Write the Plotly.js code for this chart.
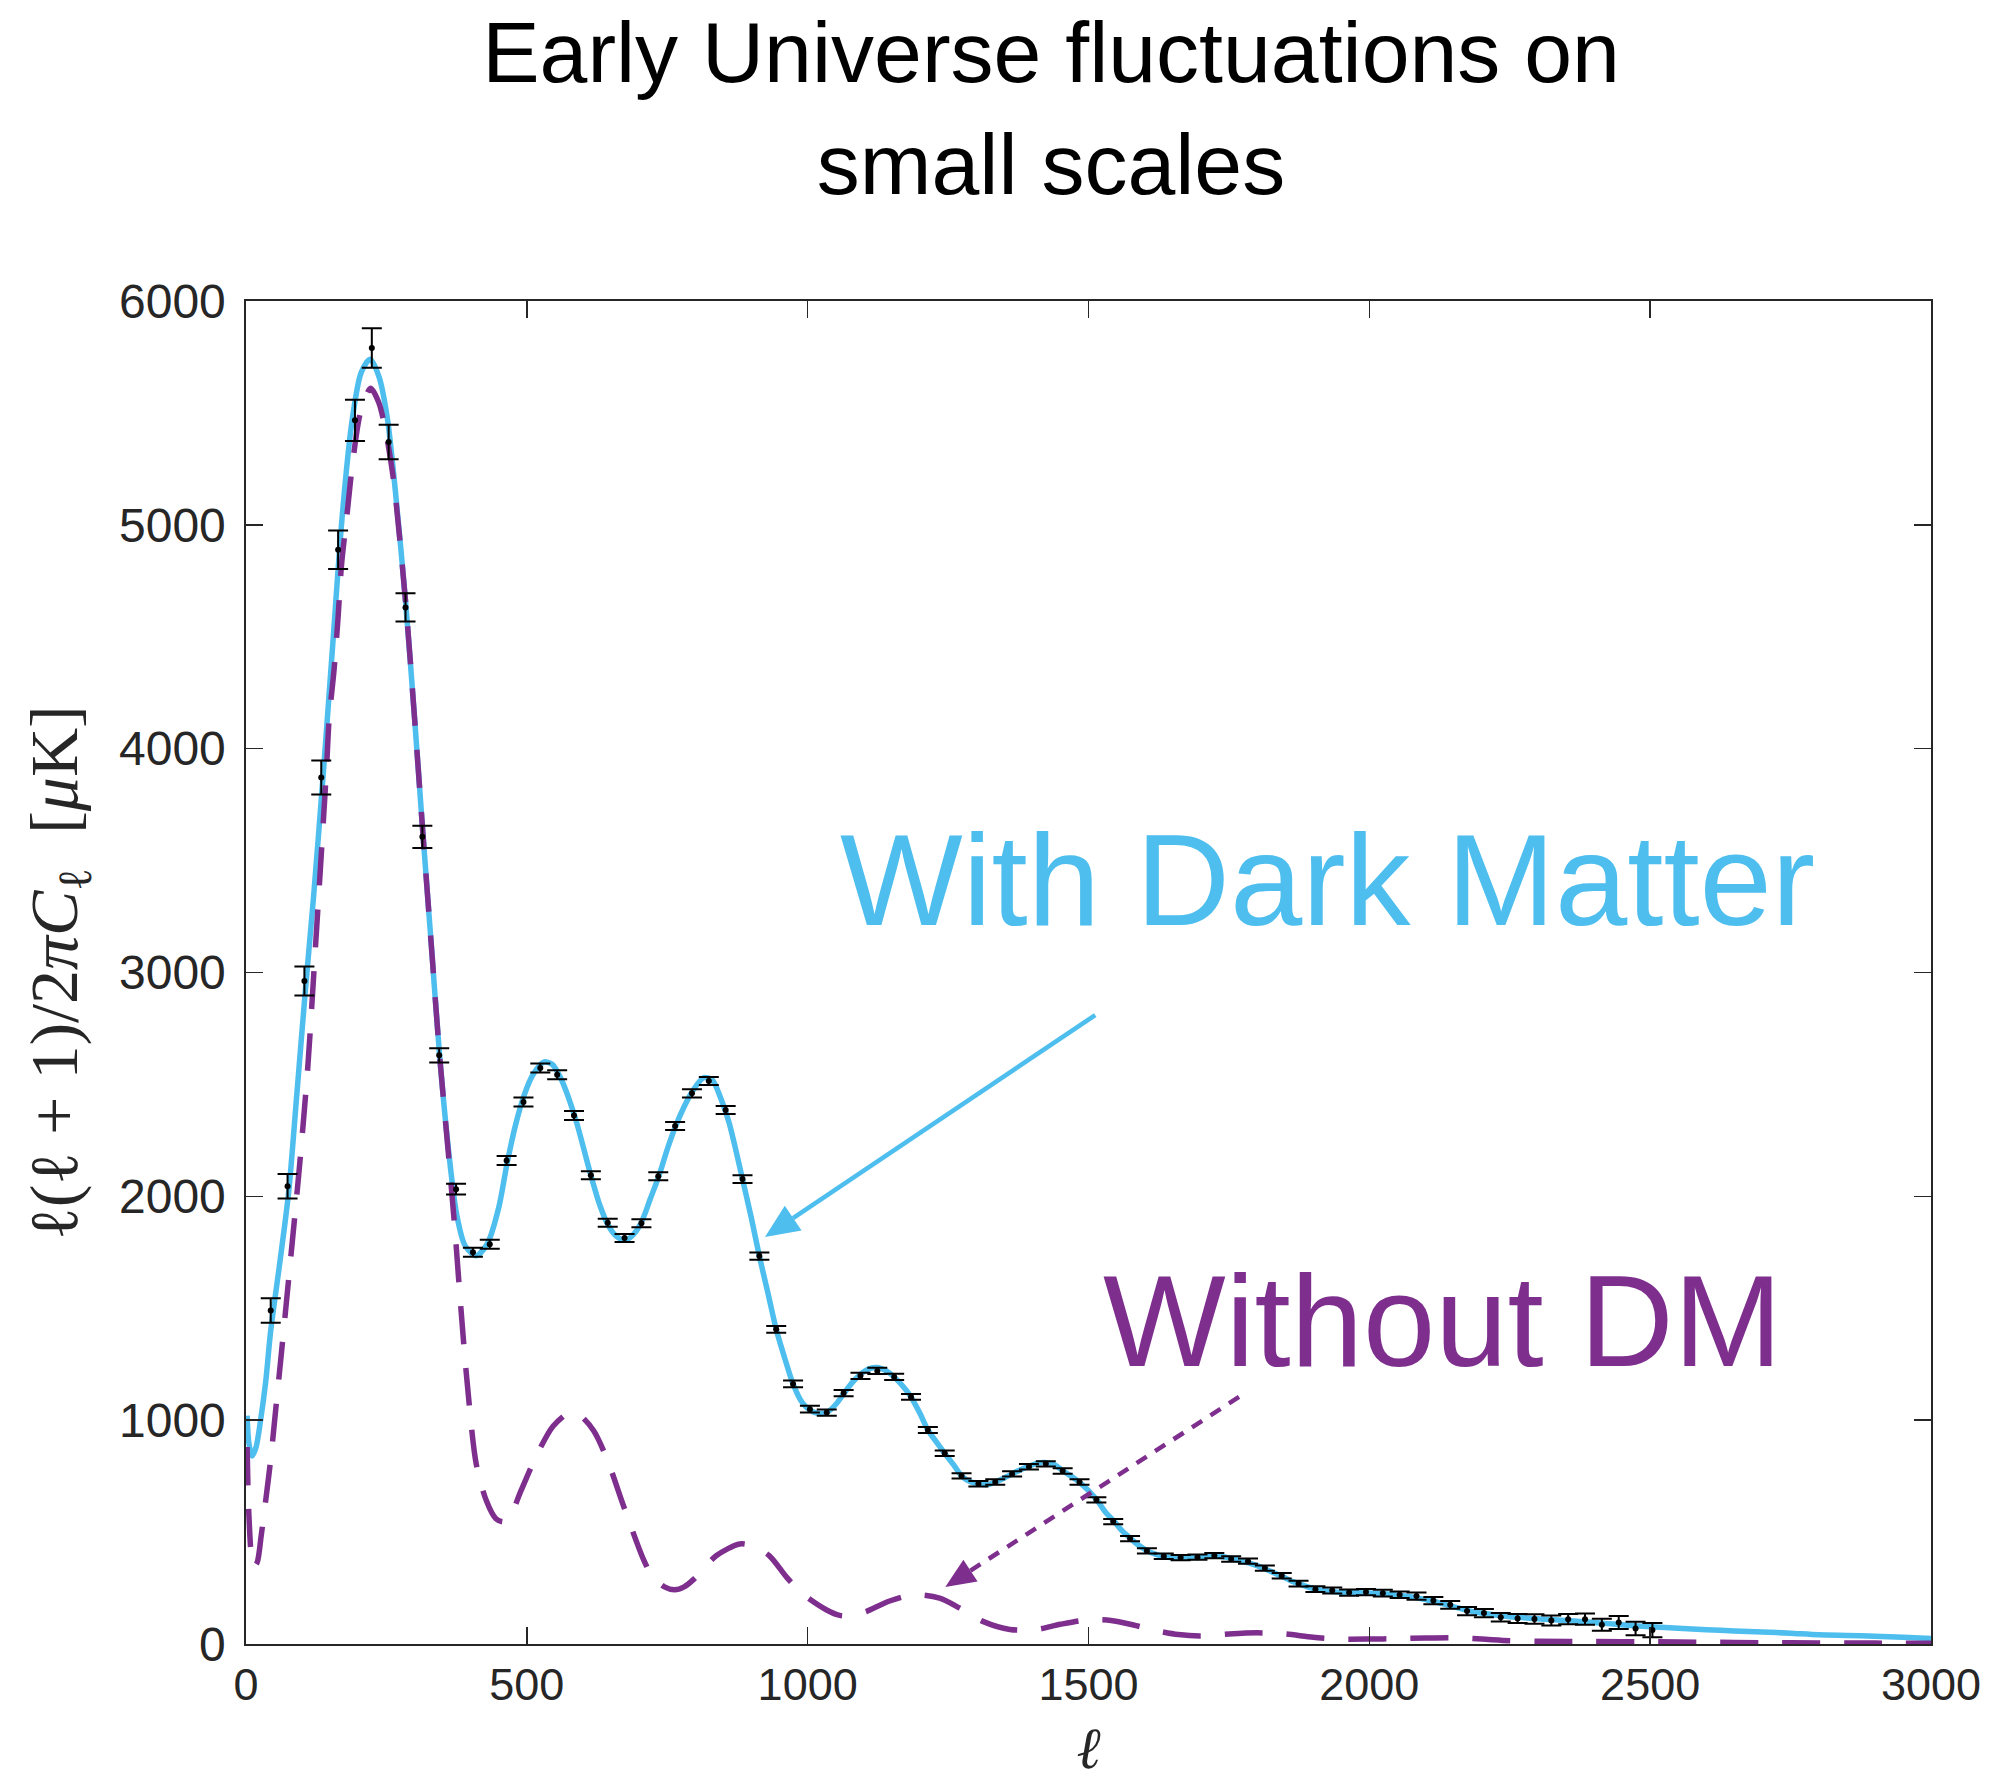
<!DOCTYPE html>
<html>
<head>
<meta charset="utf-8">
<script src="https://cdn.plot.ly/plotly-3.0.1.min.js"></script>
<style>
  html, body { margin: 0; padding: 0; background: #ffffff; }
  #chart { width: 1997px; height: 1781px; }
</style>
</head>
<body>
<div id="chart"></div>
<script>
// Binned multipole centres of the measured spectrum
const dataEll = [44, 74, 104, 134, 164, 194, 224, 254, 284, 314, 344, 374, 404, 434, 464, 494,
  524, 554, 584, 614, 644, 674, 704, 734, 764, 794, 824, 854, 884, 914, 944, 974, 1004, 1034,
  1064, 1094, 1124, 1154, 1184, 1214, 1244, 1274, 1304, 1334, 1364, 1394, 1424, 1454, 1484,
  1514, 1544, 1574, 1604, 1634, 1664, 1694, 1724, 1754, 1784, 1814, 1844, 1874, 1904, 1934,
  1964, 1994, 2024, 2054, 2084, 2114, 2144, 2174, 2204, 2234, 2264, 2294, 2324, 2354, 2384,
  2414, 2444, 2474, 2504];

// Measured band powers  l(l+1)C_l/2pi  [muK^2]
const dataPower = [1490, 2045, 2962, 3871, 4889, 5467, 5790, 5370, 4631, 3606, 2630, 2032, 1750,
  1786, 2160, 2421, 2573, 2543, 2361, 2094, 1882, 1814, 1880, 2090, 2314, 2460, 2515, 2386,
  2077, 1733, 1406, 1162, 1049, 1034, 1121, 1198, 1220, 1193, 1104, 956, 852, 751, 716, 724,
  760, 792, 805, 773, 724, 644, 547, 471, 416, 392, 386, 388, 395, 380, 370, 339, 305, 270,
  245, 239, 230, 232, 227, 220, 214, 194, 175, 147, 138, 120, 114, 112, 105, 111, 111, 86,
  96, 69, 62];

// One-sigma uncertainties of the band powers
const dataError = [55, 55, 65, 76, 86, 92, 88, 77, 63, 50, 32, 24, 20, 20, 20, 20, 20, 20, 20,
  18, 18, 18, 18, 18, 18, 18, 18, 18, 17, 16, 15, 15, 15, 14, 14, 14, 14, 14, 13, 13, 12, 12,
  12, 12, 12, 12, 12, 12, 12, 12, 12, 12, 12, 12, 12, 12, 12, 12, 12, 12, 12, 13, 13, 13, 14,
  14, 15, 15, 16, 16, 17, 18, 18, 19, 20, 21, 22, 23, 25, 27, 29, 30, 32];

// Best-fit model with dark matter
const modelEll = [2, 5, 11, 18, 26, 35, 44, 60, 76, 90, 106, 120, 137, 154, 171, 188, 205, 221,
  237, 252, 266, 284, 300, 315, 330, 345, 360, 375, 390, 410, 430, 450, 465, 480, 495, 510,
  530, 545, 560, 585, 614, 630, 645, 660, 676, 690, 705, 720, 735, 750, 765, 780, 795, 815,
  830, 845, 860, 884, 900, 914, 930, 944, 960, 974, 990, 1004, 1020, 1034, 1050, 1065, 1080,
  1094, 1110, 1125, 1140, 1154, 1170, 1184, 1200, 1214, 1230, 1244, 1260, 1274, 1290, 1304,
  1320, 1334, 1350, 1364, 1380, 1394, 1410, 1425, 1440, 1455, 1470, 1485, 1500, 1516, 1530,
  1546, 1560, 1575, 1590, 1605, 1620, 1635, 1650, 1665, 1680, 1695, 1710, 1725, 1740, 1755,
  1770, 1785, 1800, 1815, 1830, 1846, 1860, 1876, 1890, 1905, 1920, 1935, 1950, 1965, 1980,
  1995, 2010, 2025, 2040, 2055, 2070, 2085, 2100, 2115, 2130, 2145, 2160, 2175, 2190, 2205,
  2220, 2235, 2250, 2270, 2290, 2310, 2330, 2350, 2380, 2410, 2440, 2470, 2500, 2550, 2600,
  2650, 2700, 2750, 2800, 2850, 2900, 2950, 3000];
const modelPower = [1020, 900, 840, 880, 1000, 1170, 1400, 1700, 2020, 2440, 2930, 3330, 3870,
  4450, 5030, 5450, 5680, 5740, 5660, 5470, 5150, 4660, 4140, 3620, 3120, 2620, 2220, 1920,
  1780, 1735, 1790, 1950, 2150, 2320, 2450, 2540, 2600, 2590, 2530, 2360, 2094, 1960, 1870,
  1820, 1805, 1830, 1890, 1990, 2090, 2210, 2314, 2400, 2470, 2530, 2520, 2440, 2330, 2077,
  1900, 1733, 1560, 1406, 1270, 1162, 1080, 1045, 1030, 1034, 1070, 1121, 1170, 1205, 1230,
  1235, 1220, 1193, 1150, 1104, 1030, 956, 900, 852, 800, 751, 725, 716, 712, 724, 742, 760,
  780, 795, 808, 810, 800, 773, 748, 720, 685, 640, 590, 547, 505, 471, 440, 416, 400, 390,
  385, 383, 385, 388, 392, 393, 390, 382, 372, 362, 350, 335, 318, 300, 283, 268, 255, 245,
  238, 234, 231, 230, 229, 228, 226, 224, 221, 217, 212, 206, 198, 190, 180, 170, 160, 150,
  142, 136, 131, 126, 122, 118, 114, 111, 108, 105, 100, 94, 88, 82, 77, 70, 64, 58, 54, 48,
  41, 38, 35, 30, 25];

// Model without dark matter
const noDmEll = [2, 4, 7, 10, 14, 20, 27, 35, 44, 53, 62, 77, 95, 110, 122, 143, 148, 157, 164,
  170, 180, 190, 204, 222, 236, 247, 262, 284, 300, 315, 330, 345, 360, 372, 381, 393, 410,
  428, 445, 458, 470, 488, 518, 547, 577, 595, 619, 643, 673, 708, 724, 745, 763, 780, 798,
  837, 879, 902, 932, 962, 991, 1033, 1057, 1080, 1104, 1146, 1190, 1235, 1271, 1313, 1360,
  1407, 1450, 1500, 1540, 1580, 1620, 1660, 1700, 1750, 1800, 1850, 1900, 1950, 2000, 2050,
  2100, 2150, 2200, 2250, 2300, 2400, 2500, 2600, 2700, 2800, 2900, 3000];
const noDmPower = [880, 650, 480, 380, 345, 365, 483, 640, 825, 1050, 1273, 1658, 2128, 2577,
  3047, 3896, 4132, 4358, 4589, 4819, 5050, 5281, 5504, 5610, 5549, 5442, 5213, 4660, 4140,
  3620, 3120, 2620, 2200, 1850, 1551, 1188, 803, 640, 560, 546, 568, 675, 846, 974, 1035,
  1021, 953, 825, 611, 376, 300, 255, 242, 255, 291, 394, 447, 438, 394, 300, 224, 153, 128,
  128, 145, 192, 220, 205, 160, 100, 65, 65, 88, 108, 105, 85, 60, 42, 36, 45, 50, 45, 30, 22,
  22, 24, 27, 28, 22, 15, 12, 11, 10, 8, 6, 5, 4, 3];

// Axis ticks
const xTicks = [0, 500, 1000, 1500, 2000, 2500, 3000];
const yTicks = [0, 1000, 2000, 3000, 4000, 5000, 6000];

const BLUE = '#4DBEEE';
const PURPLE = '#7E2F8E';
const AXIS = '#262626';

const traces = [
  {
    x: modelEll, y: modelPower, type: 'scatter', mode: 'lines',
    line: { color: BLUE, width: 5.5, shape: 'spline', smoothing: 0.8 },
    hoverinfo: 'skip'
  },
  {
    x: noDmEll, y: noDmPower, type: 'scatter', mode: 'lines',
    line: { color: PURPLE, width: 5.5, dash: '38px,24px', shape: 'spline', smoothing: 0.8 },
    hoverinfo: 'skip'
  },
  {
    x: dataEll, y: dataPower, type: 'scatter', mode: 'markers',
    marker: { color: '#000000', size: 6 },
    error_y: { type: 'data', array: dataError, visible: true, color: '#000000', thickness: 2, width: 10 },
    hoverinfo: 'skip'
  }
];

const axisCommon = {
  showline: true, linecolor: AXIS, linewidth: 1.6, mirror: 'ticks',
  ticks: 'inside', ticklen: 17, tickwidth: 1.6, tickcolor: AXIS,
  showgrid: false, zeroline: false
};

// Arrow shafts run from the label towards the curve; heads are pixel-sized
// triangles anchored at the tip so they keep their shape on any axis scale.
const layout = {
  width: 1997, height: 1781,
  paper_bgcolor: '#ffffff', plot_bgcolor: '#ffffff',
  margin: { l: 246, r: 66, t: 301, b: 137 },
  showlegend: false,
  title: {
    text: 'Early Universe fluctuations on<br>small scales',
    x: 0.5263, xanchor: 'center', y: 0.954, yanchor: 'top',
    font: { family: 'Liberation Sans, Arial, sans-serif', size: 86, color: '#000000' }
  },
  xaxis: Object.assign({}, axisCommon, {
    range: [0, 3000], tickvals: xTicks, ticktext: xTicks.map(String),
    tickfont: { family: 'Liberation Sans, Arial, sans-serif', size: 45, color: AXIS },
    title: {
      text: '<i>ℓ</i>', standoff: 22,
      font: { family: 'Liberation Serif, DejaVu Serif, serif', size: 58, color: AXIS }
    }
  }),
  yaxis: Object.assign({}, axisCommon, {
    range: [0, 6000], tickvals: yTicks, ticktext: yTicks.map(String),
    ticklabelstandoff: 9,
    tickfont: { family: 'Liberation Sans, Arial, sans-serif', size: 48, color: AXIS },
    title: {
      text: 'ℓ(ℓ + 1)/2<i>πC</i><sub>ℓ</sub>  [<i>μ</i>K]', standoff: 19,
      font: { family: 'Liberation Serif, DejaVu Serif, serif', size: 68, color: AXIS }
    }
  }),
  shapes: [
    {
      type: 'line', xref: 'x', yref: 'y',
      x0: 1512, y0: 2810, x1: 974, y1: 1903,
      line: { color: BLUE, width: 4.5 }
    },
    {
      type: 'path', xref: 'x', yref: 'y',
      xsizemode: 'pixel', ysizemode: 'pixel', xanchor: 924, yanchor: 1818,
      path: 'M0,0 L36.6,6.6 L19.8,31.4 Z',
      fillcolor: BLUE, line: { width: 0 }
    },
    {
      type: 'line', xref: 'x', yref: 'y',
      x0: 1768, y0: 1104, x1: 1290, y1: 328,
      line: { color: PURPLE, width: 4.5, dash: '12px,10px' }
    },
    {
      type: 'path', xref: 'x', yref: 'y',
      xsizemode: 'pixel', ysizemode: 'pixel', xanchor: 1245, yanchor: 255,
      path: 'M0,0 L32.3,5.4 L18.1,27.2 Z',
      fillcolor: PURPLE, line: { width: 0 }
    }
  ],
  annotations: [
    {
      text: 'With Dark Matter', xref: 'x', yref: 'y', x: 1926, y: 3413,
      xanchor: 'center', yanchor: 'middle', showarrow: false,
      font: { family: 'Liberation Sans, Arial, sans-serif', size: 130, color: BLUE }
    },
    {
      text: 'Without DM', xref: 'x', yref: 'y', x: 2131, y: 1441,
      xanchor: 'center', yanchor: 'middle', showarrow: false,
      font: { family: 'Liberation Sans, Arial, sans-serif', size: 130, color: PURPLE }
    }
  ]
};

Plotly.newPlot('chart', traces, layout, { staticPlot: true, displayModeBar: false });
</script>
</body>
</html>
